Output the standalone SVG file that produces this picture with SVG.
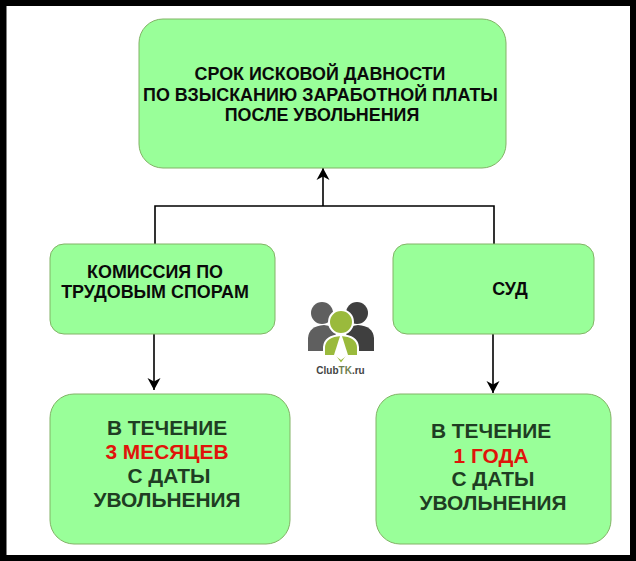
<svg xmlns="http://www.w3.org/2000/svg" width="636" height="561" viewBox="0 0 636 561">
<style>
.box{fill:#9f9;stroke:#82b366;stroke-width:1}
text{font-family:"Liberation Sans",Arial,sans-serif;font-weight:bold;text-anchor:middle}
.s{font-size:17.900px;fill:#0a0a0a}
.b{font-size:20.900px;fill:#1f3d23}
.r{font-size:20.900px;fill:#e0140a}
.c{fill:none;stroke:#000;stroke-width:1.6}
</style>
<defs>
<marker id="a" markerUnits="userSpaceOnUse" markerWidth="14" markerHeight="14" refX="12" refY="7" orient="auto"><path d="M0 0.5L12 7L0 13.5L3.500 7Z" fill="#000"/></marker>
</defs>
<rect width="636" height="561" fill="#000"/>
<rect x="6.500" y="6" width="623.500" height="549" fill="#fff"/>
<g id="connectors">
<path class="c" d="M155 244V206H494V244"/>
<path class="c" d="M323 206V168" marker-end="url(#a)"/>
<path class="c" d="M154 334V390" marker-end="url(#a)"/>
<path class="c" d="M493 334V393" marker-end="url(#a)"/>
</g>
<g id="node-top"><rect class="box" x="139" y="19" width="367" height="149" rx="24"/>
<text class="s" x="320" y="80">СРОК ИСКОВОЙ ДАВНОСТИ</text>
<text class="s" x="320.500" y="101">ПО ВЗЫСКАНИЮ ЗАРАБОТНОЙ ПЛАТЫ</text>
<text class="s" x="322" y="121">ПОСЛЕ УВОЛЬНЕНИЯ</text></g>
<g id="node-kts"><rect class="box" x="50" y="244" width="225" height="90" rx="14"/>
<text class="s" x="155" y="278">КОМИССИЯ ПО</text>
<text class="s" x="155" y="298">ТРУДОВЫМ СПОРАМ</text></g>
<g id="node-court"><rect class="box" x="393" y="244" width="201" height="90" rx="14"/>
<text class="s" x="510" y="295">СУД</text></g>
<g id="node-3m"><rect class="box" x="50" y="394" width="240" height="150" rx="24"/>
<text class="b" x="167" y="435">В ТЕЧЕНИЕ</text>
<text class="r" x="167" y="459">3 МЕСЯЦЕВ</text>
<text class="b" x="169" y="483">С ДАТЫ</text>
<text class="b" x="167" y="507">УВОЛЬНЕНИЯ</text></g>
<g id="node-1y"><rect class="box" x="376" y="394" width="235" height="150" rx="24"/>
<text class="b" x="491" y="438">В ТЕЧЕНИЕ</text>
<text class="r" x="491" y="463">1 ГОДА</text>
<text class="b" x="493" y="486">С ДАТЫ</text>
<text class="b" x="493" y="510">УВОЛЬНЕНИЯ</text></g>
<g id="logo">
<circle cx="322" cy="313" r="11" fill="#5f5f5f"/>
<circle cx="357" cy="313" r="11" fill="#3f3f3f"/>
<path d="M308 351V338Q309 326 324 325Q333 326 337 330L331 351Z" fill="#5f5f5f"/>
<path d="M374 351V338Q373 326 358 325Q349 326 345 330L351 351Z" fill="#3f3f3f"/>
<path d="M324 356V347Q325 336 341 335Q357 336 358 347V356H347L341 364L335 356Z" fill="#9aba3c" stroke="#fff" stroke-width="2"/>
<path d="M341 333L348 355L341 360L334 355Z" fill="#fff"/>
<circle cx="341" cy="322" r="12" fill="#9aba3c" stroke="#fff" stroke-width="2"/>
<text x="340.500" y="374" style="font-size:10px" fill="#444">Club<tspan fill="#6f7f50">TK</tspan>.ru</text>
</g>
</svg>
